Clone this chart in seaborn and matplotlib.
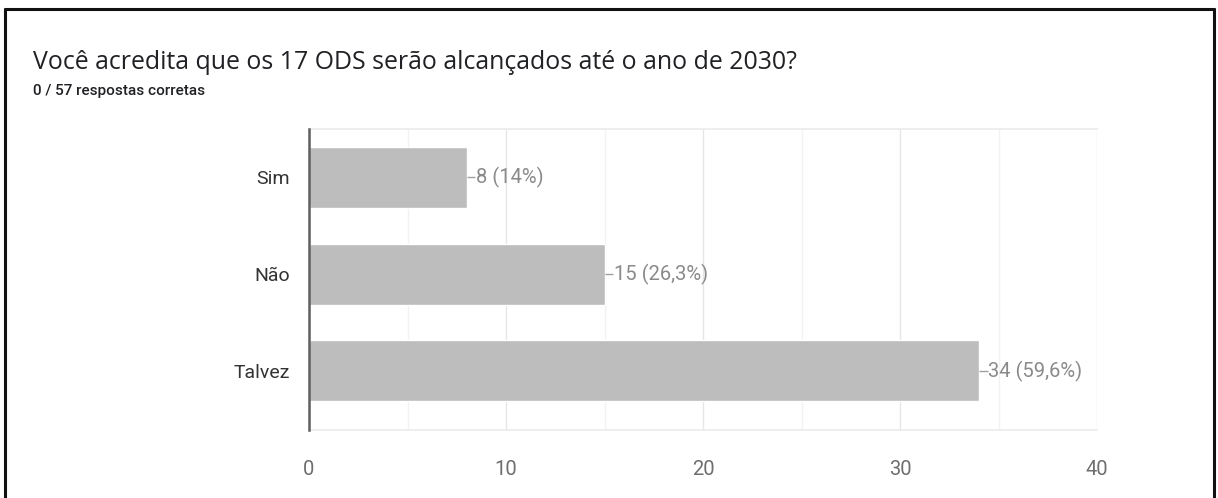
import matplotlib
matplotlib.use("Agg")
import matplotlib.pyplot as plt
from matplotlib.ticker import MultipleLocator
import seaborn as sns
import pandas as pd

# Survey answers
categories = ["Sim", "Não", "Talvez"]
counts = [8, 15, 34]
value_labels = ["8 (14%)", "15 (26,3%)", "34 (59,6%)"]
x_ticks = [0, 10, 20, 30, 40]

title = "Você acredita que os 17 ODS serão alcançados até o ano de 2030?"
subtitle = "0 / 57 respostas corretas"

sns.set_theme(style="white")
plt.rcParams["font.family"] = ["Roboto", "DejaVu Sans"]

df = pd.DataFrame({"resposta": categories, "n": counts})

fig = plt.figure(figsize=(12.18, 4.98), dpi=100)

# outer frame (open at the bottom)
frame_kw = dict(color="#111111", lw=2.2, transform=fig.transFigure, clip_on=False)
fig.add_artist(plt.Line2D([0.0045, 0.0045], [0.0, 0.982], **frame_kw))
fig.add_artist(plt.Line2D([0.9965, 0.9965], [0.0, 0.982], **frame_kw))
fig.add_artist(plt.Line2D([0.0045, 0.9965], [0.982, 0.982], **frame_kw))

fig.text(33 / 1218, 1 - 69 / 498, title, fontsize=17.9, color="#202124",
         ha="left", va="baseline", family=["Open Sans", "DejaVu Sans"])
fig.text(33 / 1218, 1 - 95 / 498, subtitle, fontsize=11, color="#202124",
         ha="left", va="baseline", fontweight="medium")

ax = fig.add_axes([309 / 1218, 1 - 430 / 498, 788 / 1218, 301 / 498])

sns.barplot(data=df, x="n", y="resposta", order=categories, orient="h",
            color="#bdbdbd", saturation=1, width=0.63, ax=ax, zorder=3)

ax.set_xlim(0, 40)
ax.set_ylim(2.61, -0.5)
ax.set_xticks(x_ticks)
ax.set_xticklabels([str(t) for t in x_ticks])
ax.xaxis.set_minor_locator(MultipleLocator(5))
ax.grid(axis="x", which="major", color="#e6e6e6", lw=1, zorder=0)
ax.grid(axis="x", which="minor", color="#f2f2f2", lw=1, zorder=0)
ax.set_axisbelow(True)
ax.set_xlabel("")
ax.set_ylabel("")

ax.spines["right"].set_visible(False)
ax.spines["top"].set_color("#ececec")
ax.spines["bottom"].set_color("#ececec")
ax.spines["left"].set_color("#5f5f5f")
ax.spines["left"].set_linewidth(1.8)
ax.spines["left"].set_zorder(5)

ax.tick_params(axis="x", length=0, pad=21.5, labelsize=14.5, labelcolor="#6e6e6e")
ax.tick_params(axis="y", length=0, pad=13.5, labelsize=14, labelcolor="#333333")

for i, (v, lab) in enumerate(zip(counts, value_labels)):
    ax.plot([v, v + 0.45], [i, i], color="#a0a0a0", lw=1, zorder=4,
            solid_capstyle="butt")
    ax.text(v + 0.47, i, lab, va="center", ha="left", fontsize=14.5,
            color="#8a8a8a")

fig.savefig("out.png", dpi=100, facecolor="white")
